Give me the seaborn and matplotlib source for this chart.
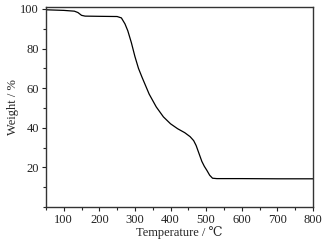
import pandas as pd
import seaborn as sns
import matplotlib.pyplot as plt
from matplotlib.ticker import MultipleLocator

# TGA curve
temperature = [50, 100, 130, 140, 150, 160, 200, 250, 262, 272, 280, 290, 300, 310, 320,
               340, 360, 380, 400, 420, 440, 455, 465, 472, 480, 488, 495, 502, 510, 518,
               530, 600, 700, 800]
weight = [99.6, 99.3, 98.9, 98.2, 96.8, 96.4, 96.3, 96.2, 95.5, 92.5, 89, 83, 76, 70, 65.5,
          57, 50.5, 45.5, 42, 39.5, 37.5, 35.5, 33.5, 31, 27, 23, 20.5, 18.5, 16, 14.5,
          14.3, 14.3, 14.2, 14.2]

df = pd.DataFrame({'T': temperature, 'W': weight})

sns.set_style("ticks")
plt.rcParams['font.family'] = ['Liberation Serif', 'DejaVu Serif', 'DejaVu Sans']
plt.rcParams['font.size'] = 9

fig = plt.figure(figsize=(3.28, 2.42), dpi=100)
ax = fig.add_axes([0.140, 0.145, 0.814, 0.826])

sns.lineplot(data=df, x='T', y='W', ax=ax, color='black', linewidth=0.9)

ax.set_xlim(50, 800)
ax.set_ylim(0, 101)
ax.set_xticks([100, 200, 300, 400, 500, 600, 700, 800])
ax.set_yticks([20, 40, 60, 80, 100])
ax.xaxis.set_minor_locator(MultipleLocator(50))
ax.yaxis.set_minor_locator(MultipleLocator(10))
ax.tick_params(which='major', direction='out', length=3, width=0.8, pad=2,
               labelsize=9, colors='#222222')
ax.tick_params(which='minor', direction='out', length=2, width=0.8)
for s in ax.spines.values():
    s.set_visible(True)
    s.set_linewidth(1.0)
    s.set_color('#333333')

ax.set_xlabel("Temperature / ℃", labelpad=0, fontsize=9)
ax.set_ylabel("Weight / %", labelpad=1, fontsize=9)

fig.savefig("out.png", dpi=100)
